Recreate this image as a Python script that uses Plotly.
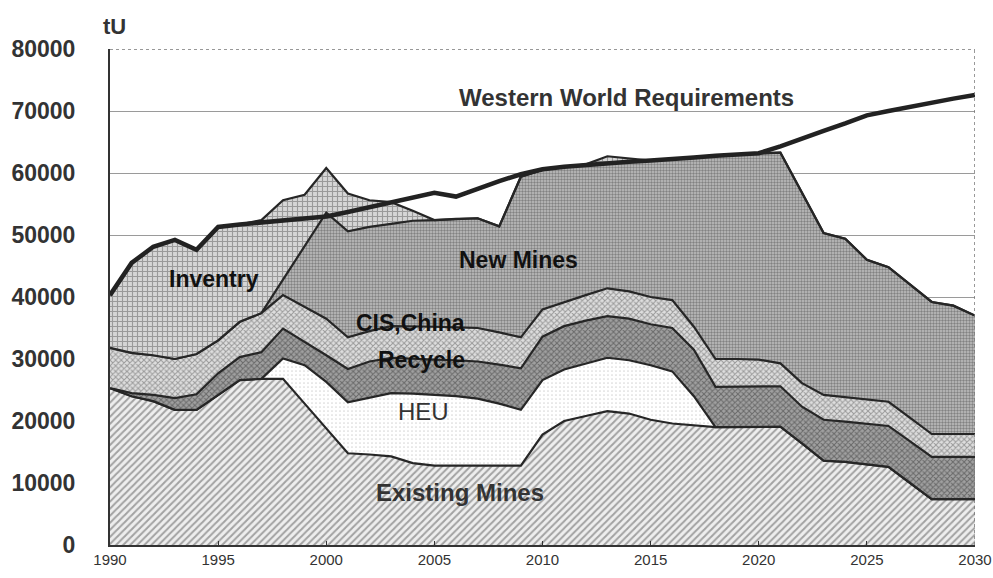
import plotly.graph_objects as go

years = [1990, 1991, 1992, 1993, 1994, 1995, 1996, 1997, 1998, 1999,
         2000, 2001, 2002, 2003, 2004, 2005, 2006, 2007, 2008, 2009,
         2010, 2011, 2012, 2013, 2014, 2015, 2016, 2017, 2018, 2019,
         2020, 2021, 2022, 2023, 2024, 2025, 2026, 2027, 2028, 2029, 2030]

# cumulative upper boundaries of each stacked band (tU)
existing_top = [25300, 24000, 23200, 21800, 21800, 24200, 26600, 26800, 26800, 22800,
                18800, 14800, 14600, 14300, 13200, 12800, 12800, 12800, 12800, 12800,
                17800, 20000, 20800, 21600, 21200, 20200, 19600, 19300, 19000, 19000,
                19100, 19100, 16400, 13600, 13400, 13000, 12600, 10000, 7400, 7400, 7400]
heu_top = [25300, 24000, 23200, 21800, 21800, 24200, 26600, 26800, 30100, 29000,
           26300, 23000, 23800, 24500, 24400, 24200, 24000, 23600, 22800, 21800,
           26600, 28300, 29300, 30200, 29800, 29000, 28000, 24000, 19000, 19000,
           19100, 19100, 16400, 13600, 13400, 13000, 12600, 10000, 7400, 7400, 7400]
recycle_top = [25300, 24500, 24200, 23700, 24300, 27700, 30300, 31100, 34900, 32800,
               30600, 28400, 29600, 30200, 30000, 29900, 29800, 29600, 29100, 28500,
               33600, 35300, 36200, 36900, 36500, 35600, 35000, 31500, 25500, 25500,
               25600, 25600, 22300, 20200, 19900, 19600, 19200, 16700, 14200, 14200, 14200]
cis_top = [31800, 31000, 30600, 30000, 30800, 33000, 36000, 37400, 40300, 38400,
           36500, 33500, 34500, 35300, 35300, 35200, 35100, 35000, 34300, 33500,
           38000, 39200, 40300, 41400, 40900, 40000, 39500, 35200, 30000, 30000,
           29900, 29300, 26100, 24200, 23800, 23500, 23100, 20500, 17900, 17900, 17900]
newmines_top = [31800, 31000, 30600, 30000, 30800, 33000, 36000, 37400, 42800, 48200,
                53600, 50600, 51300, 51800, 52300, 52400, 52600, 52700, 51400, 59400,
                60500, 61000, 61300, 61600, 61800, 62000, 62200, 62500, 62800, 63000,
                63200, 63300, 56800, 50300, 49400, 46000, 44800, 42000, 39200, 38600, 37000]
inventry_top = [40300, 45500, 48100, 49200, 47600, 51300, 51700, 52400, 55600, 56500,
                60800, 56700, 55600, 55300, 53900, 52400, 52600, 52700, 51400, 59400,
                60500, 61000, 61400, 62700, 62300, 62000, 62200, 62500, 62800, 63000,
                63200, 63300, 56800, 50300, 49400, 46000, 44800, 42000, 39200, 38600, 37000]
requirements = [40300, 45500, 48100, 49200, 47600, 51300, 51700, 52000, 52300, 52600,
                53000, 53700, 54500, 55300, 56000, 56800, 56200, 57500, 58700, 59800,
                60600, 61000, 61300, 61600, 61800, 62000, 62200, 62500, 62800, 63000,
                63200, 64300, 65600, 66800, 68000, 69300, 70000, 70700, 71400, 72000, 72600]

x_ticks = [1990, 1995, 2000, 2005, 2010, 2015, 2020, 2025, 2030]
y_ticks = [0, 10000, 20000, 30000, 40000, 50000, 60000, 70000, 80000]

FONT = "Liberation Sans, Arial, sans-serif"
EDGE = "#262626"

bands = [
    ("Existing Mines", existing_top, "tozeroy", dict(shape="/", fgcolor="#555555", bgcolor="#eeeeee", size=5, solidity=0.4)),
    ("HEU", heu_top, "tonexty", dict(shape=".", fgcolor="#b0b0b0", bgcolor="#ffffff", size=4, solidity=0.15)),
    ("Recycle", recycle_top, "tonexty", dict(shape="x", fgcolor="#333333", bgcolor="#a0a0a0", size=4, solidity=0.45)),
    ("CIS,China", cis_top, "tonexty", dict(shape="x", fgcolor="#555555", bgcolor="#dedede", size=4, solidity=0.45)),
    ("New Mines", newmines_top, "tonexty", dict(shape=".", fgcolor="#444444", bgcolor="#c0c0c0", size=3, solidity=0.5)),
    ("Inventry", inventry_top, "tonexty", dict(shape="+", fgcolor="#5e5e5e", bgcolor="#d6d6d6", size=5, solidity=0.4)),
]

fig = go.Figure()
for name, top, fill, pat in bands:
    fig.add_trace(go.Scatter(
        x=years, y=top, name=name, mode="lines", fill=fill,
        fillpattern=pat, fillcolor=pat["bgcolor"],
        line=dict(color=EDGE, width=2.2), hoverinfo="skip"))

fig.add_trace(go.Scatter(
    x=years, y=requirements, name="Western World Requirements", mode="lines",
    line=dict(color="#222222", width=4.5), hoverinfo="skip"))

labels = [
    ("Western World Requirements", 2013.9, 72100, 24, "bold", "#333333"),
    ("Inventry", 1994.8, 42900, 23, "bold", "#111111"),
    ("New Mines", 2008.9, 46000, 23, "bold", "#111111"),
    ("CIS,China", 2003.9, 35800, 23, "bold", "#111111"),
    ("Recycle", 2004.4, 29800, 23, "bold", "#111111"),
    ("HEU", 2004.5, 21600, 24, "normal", "#333333"),
    ("Existing Mines", 2006.2, 8500, 24, "bold", "#333333"),
]
for text, lx, ly, size, weight, color in labels:
    fig.add_annotation(x=lx, y=ly, text=text, showarrow=False,
                       font=dict(family=FONT, size=size, color=color, weight=weight))

fig.add_annotation(xref="paper", yref="paper", x=0.005, y=1.046, text="tU",
                   xanchor="center", yanchor="middle", showarrow=False,
                   font=dict(family=FONT, size=22, color="#333333", weight="bold"))

# dotted top and right frame
fig.add_shape(type="line", xref="x", yref="y", x0=1990, x1=2030, y0=80000, y1=80000,
              line=dict(color="#777777", width=1.5, dash="dot"))
fig.add_shape(type="line", xref="x", yref="y", x0=2030, x1=2030, y0=0, y1=80000,
              line=dict(color="#777777", width=1.5, dash="dot"))

fig.update_layout(
    width=993, height=578,
    margin=dict(l=110, r=18, t=49, b=33, autoexpand=False),
    paper_bgcolor="white", plot_bgcolor="white",
    showlegend=False,
    font=dict(family=FONT, color="#333333"),
)
fig.update_xaxes(
    range=[1990, 2030], tickvals=x_ticks, tickformat="d", automargin=False,
    showgrid=False, zeroline=False,
    showline=True, linecolor="#333333", linewidth=2,
    ticks="inside", ticklen=4, tickcolor="#333333",
    tickfont=dict(family=FONT, size=15, color="#333333"),
)
fig.update_yaxes(
    range=[0, 80000], tickvals=y_ticks, tickformat="d", automargin=False,
    showgrid=True, gridcolor="#9a9a9a", gridwidth=1, zeroline=False,
    showline=True, linecolor="#333333", linewidth=2,
    ticks="", ticklabelstandoff=28,
    tickfont=dict(family=FONT, size=23, color="#333333", weight="bold"),
)

fig.write_html(
    "out.html",
    config={"displayModeBar": False},
    post_script="document.body.style.margin='0';document.body.style.overflow='hidden';",
)
